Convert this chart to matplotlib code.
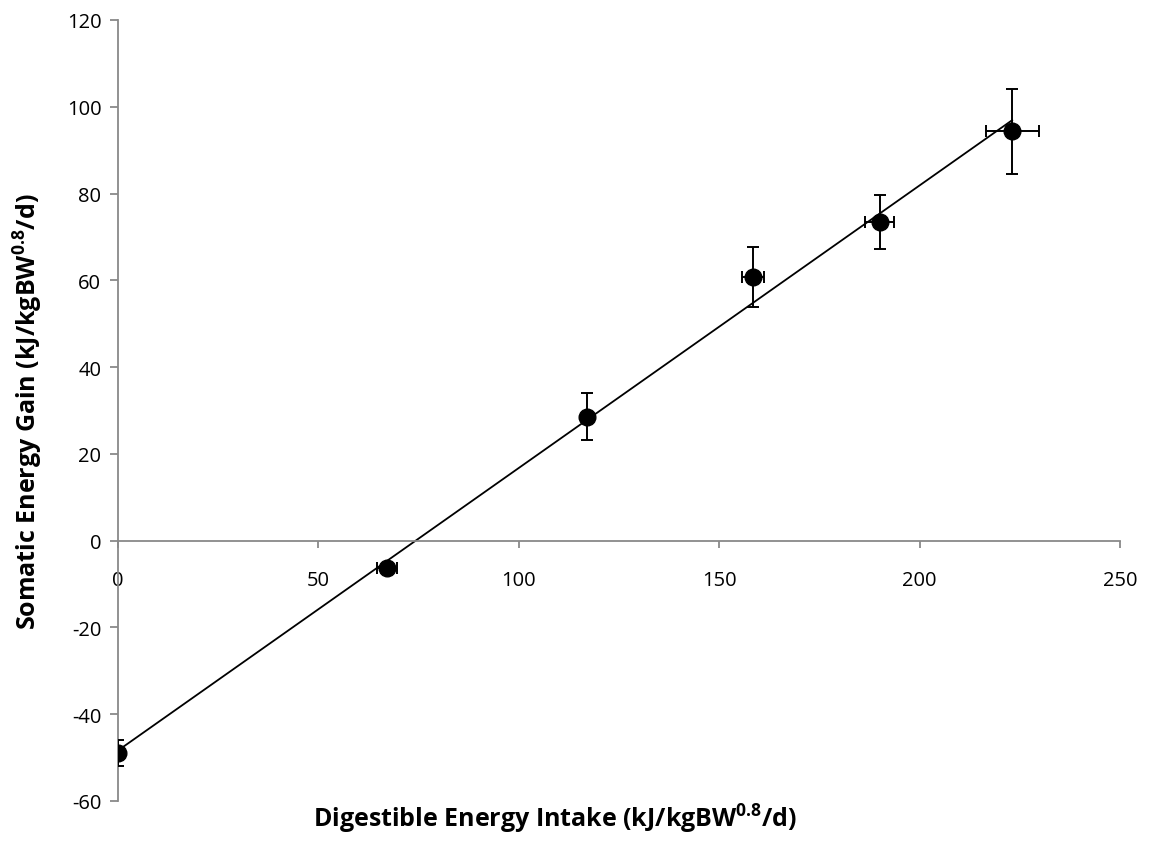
import numpy as np
import matplotlib
matplotlib.use("Agg")
import matplotlib.pyplot as plt

# Data
x_vals = [0.0, 67.2, 117.0, 158.4, 190.1, 223.1]
y_vals = [-49.0, -6.3, 28.6, 60.8, 73.5, 94.4]
x_err = [0.0, 2.5, 0.0, 2.8, 3.6, 6.6]
y_err = [3.0, 1.0, 5.5, 6.9, 6.2, 9.8]
x_ticks = [0, 50, 100, 150, 200, 250]
y_ticks = [-60, -40, -20, 0, 20, 40, 60, 80, 100, 120]

plt.rcParams['font.family'] = ['Open Sans', 'DejaVu Sans']
plt.rcParams['mathtext.fontset'] = 'custom'
plt.rcParams['mathtext.bf'] = 'Open Sans:bold'
plt.rcParams['mathtext.rm'] = 'Open Sans'
plt.rcParams['axes.unicode_minus'] = False

fig = plt.figure(figsize=(11.5, 8.45), dpi=100)
ax = fig.add_axes([118/1150, 1 - 802/845, (1120 - 118)/1150, (802 - 21)/845])

grey = '#898989'

# Trend line (least squares fit)
slope, intercept = np.polyfit(x_vals, y_vals, 1)
xl = np.array([min(x_vals), max(x_vals)])
ax.plot(xl, slope * xl + intercept, color='black', lw=1.3, zorder=2)

ax.errorbar(x_vals, y_vals, xerr=x_err, yerr=y_err, fmt='o', color='black',
            ms=12, capsize=4.5, elinewidth=1.4, capthick=1.4, zorder=3)

ax.set_xlim(0, 250)
ax.set_ylim(-60, 120)
ax.set_xticks(x_ticks)
ax.set_yticks(y_ticks)

for s in ['top', 'right']:
    ax.spines[s].set_visible(False)
ax.spines['bottom'].set_position(('data', 0))
ax.spines['left'].set_position(('data', 0))
ax.spines['bottom'].set_color(grey)
ax.spines['left'].set_color(grey)
ax.spines['bottom'].set_linewidth(1.3)
ax.spines['left'].set_linewidth(1.3)

ax.tick_params(axis='x', direction='out', length=5, width=1.3, color=grey,
               labelsize=14.5, pad=16)
ax.tick_params(axis='y', direction='out', length=6, width=1.3, color=grey,
               labelsize=14.5, pad=6)

ax.set_xlabel(r'Digestible Energy Intake (kJ/kgBW$\mathbf{^{0.8}}$/d)',
              fontsize=18, fontweight='bold', va='center')
ax.xaxis.set_label_coords((555 - 118) / 1002, -(819 - 802) / 781)
ax.set_ylabel(r'Somatic Energy Gain (kJ/kgBW$\mathbf{^{0.8}}$/d)',
              fontsize=18, fontweight='bold', va='center')
ax.yaxis.set_label_coords((28 - 118) / 1002, 0.5)

fig.savefig('out.png', dpi=100)
